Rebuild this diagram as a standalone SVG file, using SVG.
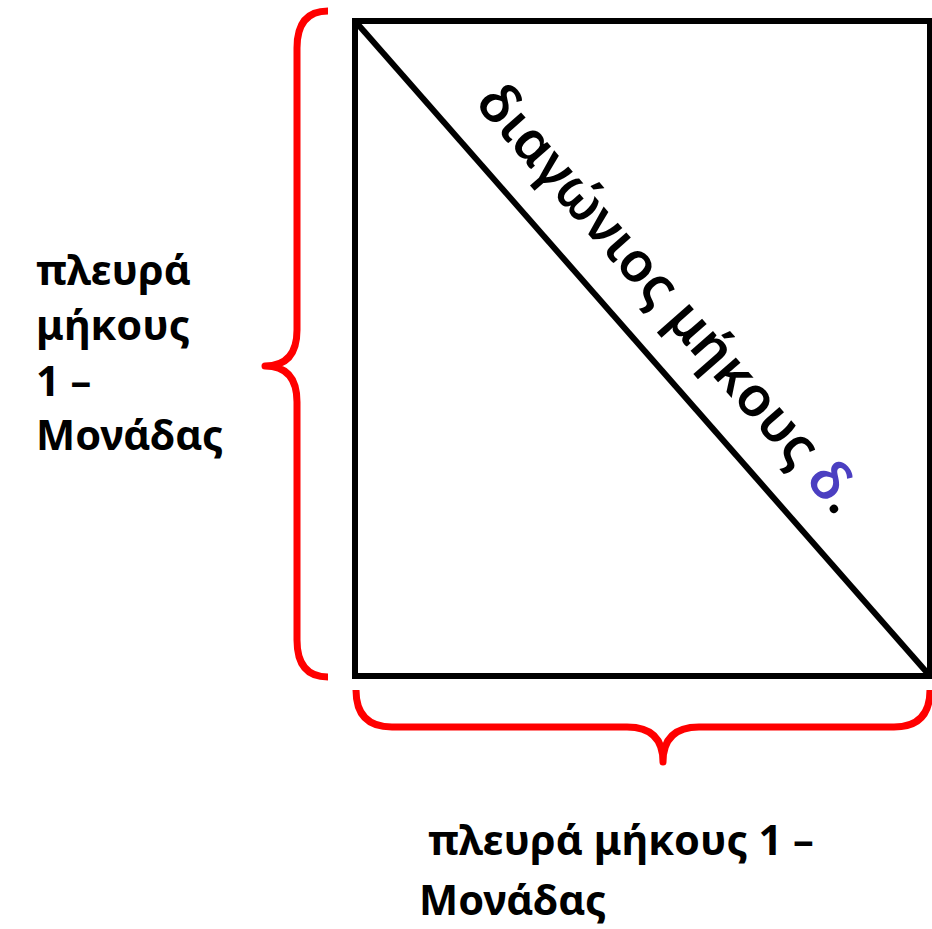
<svg xmlns="http://www.w3.org/2000/svg" width="932" height="929" viewBox="0 0 932 929">
<style>
.brace{fill:none;stroke:#ff0000;stroke-width:7;stroke-linecap:butt;stroke-linejoin:round}
.edge{fill:none;stroke:#000;stroke-width:6}
.lbl{font-family:"Noto Sans","Open Sans",sans-serif;font-weight:bold;font-size:41.5px;fill:#000}
.diag{font-family:"Noto Sans","Open Sans",sans-serif;font-weight:600;font-size:55px;fill:#000}
</style>
<rect width="932" height="929" fill="#fff"/>
<g id="square">
<rect class="edge" x="355" y="21" width="575" height="655"/>
</g>
<g id="connectors">
<line class="edge" x1="355" y1="21" x2="930" y2="676"/>
<path id="left-brace" class="brace" d="M328,11 Q297,11 297,48 L297,330 Q297,366 265,366 Q297,366 297,402 L297,640 Q297,677 328,677"/>
<path id="bottom-brace" class="brace" d="M356,690 Q356,727 392,727 L627,727 Q663,727 663,762 Q663,727 699,727 L894,727 Q930,727 930,690"/>
</g>
<g id="diagonal-label">
<text class="diag" transform="translate(474,104) rotate(48.75)">διαγώνιος μήκους <tspan fill="#4B3FC1">δ</tspan>.</text>
</g>
<g id="left-label">
<text class="lbl" x="36" y="285">πλευρά</text>
<text class="lbl" x="36" y="340">μήκους</text>
<text class="lbl" x="36" y="396">1 –</text>
<text class="lbl" x="36" y="450">Μονάδας</text>
</g>
<g id="bottom-label">
<text class="lbl" x="428" y="855">πλευρά μήκους 1 –</text>
<text class="lbl" x="419" y="915">Μονάδας</text>
</g>
</svg>
